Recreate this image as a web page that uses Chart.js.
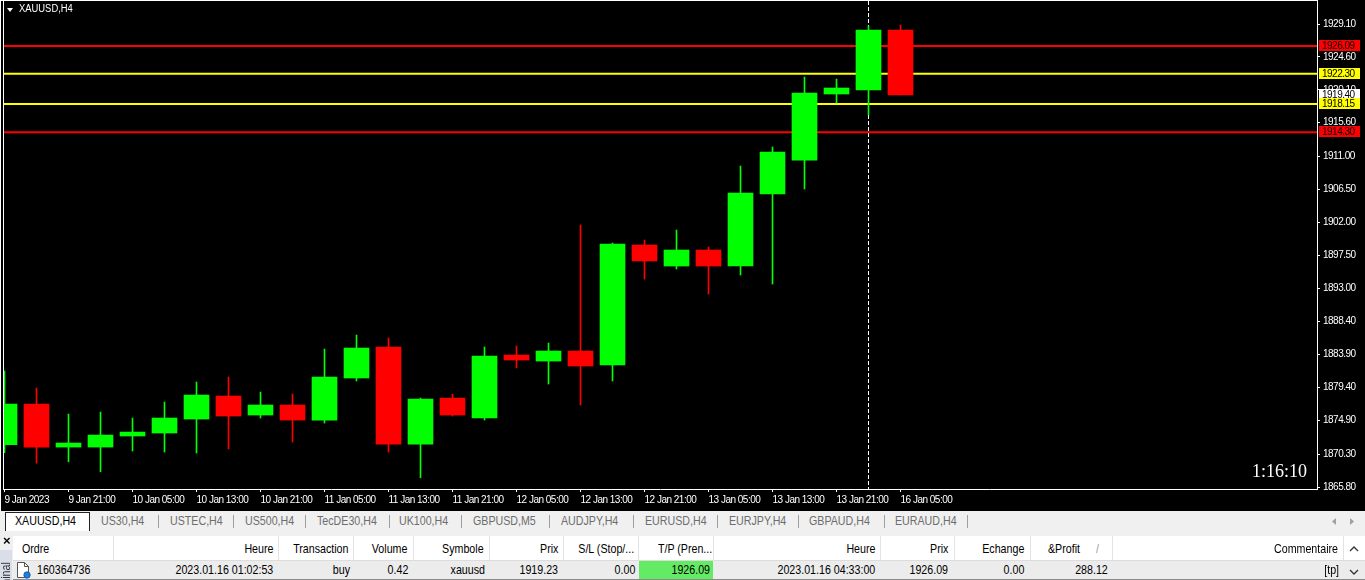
<!DOCTYPE html>
<html>
<head>
<meta charset="utf-8">
<script src="https://cdn.jsdelivr.net/npm/chart.js@4.4.0/dist/chart.umd.min.js"></script>
<style>
  html, body { margin: 0; padding: 0; width: 1365px; height: 580px; overflow: hidden; background: #f0f0f0;
    font-family: "Liberation Sans", Arial, sans-serif; }
  #chartBox { position: absolute; left: 0; top: 0; width: 1365px; height: 511px; background: #000; }
  #chartBox canvas { display: block; }
  #edge { position: absolute; left: 0; top: 0; width: 1px; height: 511px; background: #fff; }
  #symTitle { position: absolute; left: 19px; top: 3px; font-size: 10px; line-height: 12px; color: #fff;
    transform: scaleX(0.94); transform-origin: left center; }
  #symArrow { position: absolute; left: 7px; top: 8px; width: 0; height: 0;
    border-left: 3px solid transparent; border-right: 3px solid transparent; border-top: 4px solid #fff; }
  #timer { position: absolute; right: 58px; top: 461px; font-family: "Liberation Serif", "Times New Roman", serif;
    font-size: 18px; line-height: 20px; color: #fff; }
  #panel { position: absolute; left: 0; top: 511px; width: 1365px; height: 69px; background: #f0f0f0; }
  .t { position: absolute; white-space: nowrap; font-size: 13px; line-height: 16px; color: #000; }
  .tab { color: #6d6d6d; }
  .sep { position: absolute; width: 1px; background: #a0a0a0; }
  #activeTab { position: absolute; left: 5px; top: 1px; width: 83px; height: 18px; background: #fff;
    border: 1px solid #222; border-bottom: none; }
  #head { position: absolute; left: 13px; top: 25px; width: 1352px; height: 24px; background: #fff;
    border-bottom: 1px solid #dcdcdc; }
  #row { position: absolute; left: 13px; top: 50px; width: 1352px; height: 18px; background: #ececec;
    border-bottom: 1px solid #8a8a8a; }
  .csep { position: absolute; top: 25px; width: 1px; height: 24px; background: #e3e3e3; }
  #tpCell { position: absolute; left: 639px; top: 50px; width: 74px; height: 18px; background: #63ec63; }
  #sideTab { position: absolute; left: 0; top: 39px; width: 12px; height: 30px; background: #d9dee8; overflow: hidden; }
  #sideText { position: absolute; left: -19px; top: 24px; width: 50px; transform: rotate(-90deg) scaleX(0.82);
    transform-origin: 25px 8px; font-size: 13px; line-height: 16px; color: #333; }
</style>
</head>
<body>
<div id="chartBox">
  <canvas id="chart" width="1365" height="511"></canvas>
  <div id="edge"></div>
  <div id="symArrow"></div>
  <div id="symTitle">XAUUSD,H4</div>
  <div id="timer">1:16:10</div>
</div>
<div id="panel"></div>

<script>
// XAUUSD H4 bars
const barTimes = [
  '9 Jan 13:00', '9 Jan 17:00', '9 Jan 21:00',
  '10 Jan 01:00', '10 Jan 05:00', '10 Jan 09:00', '10 Jan 13:00', '10 Jan 17:00', '10 Jan 21:00',
  '11 Jan 01:00', '11 Jan 05:00', '11 Jan 09:00', '11 Jan 13:00', '11 Jan 17:00', '11 Jan 21:00',
  '12 Jan 01:00', '12 Jan 05:00', '12 Jan 09:00', '12 Jan 13:00', '12 Jan 17:00', '12 Jan 21:00',
  '13 Jan 01:00', '13 Jan 05:00', '13 Jan 09:00', '13 Jan 13:00', '13 Jan 17:00', '13 Jan 21:00',
  '16 Jan 01:00', '16 Jan 05:00'
];
const openP  = [1871.58, 1877.14, 1871.26, 1871.26, 1872.77, 1873.18, 1875.09, 1878.24, 1875.64, 1877.01,
                1874.95, 1880.70, 1884.94, 1871.67, 1877.96, 1875.23, 1883.84, 1883.02, 1884.39, 1882.48,
                1898.88, 1896.01, 1898.20, 1896.01, 1905.86, 1910.50, 1919.53, 1920.08, 1928.28];
const highP  = [1881.66, 1879.33, 1875.77, 1876.05, 1875.23, 1877.42, 1880.15, 1880.83, 1878.78, 1878.51,
                1884.66, 1886.58, 1886.17, 1877.96, 1878.51, 1884.94, 1885.07, 1885.48, 1901.62, 1899.16,
                1899.57, 1900.93, 1898.61, 1909.68, 1912.28, 1921.85, 1921.58, 1928.83, 1928.96];
const lowP   = [1870.49, 1869.07, 1869.25, 1867.88, 1870.72, 1870.58, 1870.44, 1871.00, 1875.23, 1871.95,
                1874.54, 1880.29, 1870.58, 1867.07, 1875.50, 1874.95, 1882.07, 1879.88, 1877.01, 1880.29,
                1894.23, 1895.60, 1892.18, 1894.78, 1893.55, 1906.54, 1918.30, 1916.66, 1919.40];
const closeP = [1877.14, 1871.26, 1871.81, 1872.90, 1873.31, 1875.23, 1878.37, 1875.50, 1877.01, 1874.95,
                1880.83, 1884.80, 1871.67, 1877.83, 1875.64, 1883.71, 1883.16, 1884.39, 1882.34, 1899.02,
                1896.70, 1898.20, 1896.01, 1905.99, 1911.60, 1919.67, 1920.35, 1928.28, 1919.40];

// time axis labels, one on every second bar
const axisLabels = ['9 Jan 2023', '9 Jan 21:00', '10 Jan 05:00', '10 Jan 13:00', '10 Jan 21:00',
  '11 Jan 05:00', '11 Jan 13:00', '11 Jan 21:00', '12 Jan 05:00', '12 Jan 13:00', '12 Jan 21:00',
  '13 Jan 05:00', '13 Jan 13:00', '13 Jan 21:00', '16 Jan 05:00'];
// price scale ticks
const priceTicks = [1929.10, 1924.60, 1920.10, 1915.60, 1911.00, 1906.50, 1902.00, 1897.50,
                    1893.00, 1888.40, 1883.90, 1879.40, 1874.90, 1870.30, 1865.80];
// horizontal price levels (take profit / entry / stop levels)
const levelPrices = [1926.09, 1922.30, 1918.15, 1914.30];
const levelColors = ['#ff0000', '#ffff00', '#ffff00', '#ff0000'];
// vertical marker bar
const markerTime = '16 Jan 01:00';

const UP = '#00ff00', DOWN = '#ff0000';
const BAR_PX = 32;                       // horizontal zoom: pixels per bar
const PLOT_LEFT = 3, PLOT_RIGHT = 1317, PLOT_TOP = 1, PLOT_BOTTOM = 489;
const X_MIN = -0.046875;
const X_MAX = X_MIN + (PLOT_RIGHT - PLOT_LEFT) / BAR_PX;
const Y_MAX = 1932.245, Y_MIN = 1865.527;
const AXIS_FAMILY = '"Liberation Sans", Arial, sans-serif';
const AXIS_FONT = { family: AXIS_FAMILY, size: 10 };
const LETTER_SPACING = '-0.5px';         // narrow terminal-style lettering

const candleColors = openP.map((o, i) => closeP[i] >= o ? UP : DOWN);
const tickIndex = axisLabels.map((_, k) => k * 2);

const levelSets = levelPrices.map((v, k) => ({
  type: 'line',
  data: [{ x: X_MIN, y: v }, { x: X_MAX, y: v }],
  borderColor: levelColors[k],
  borderWidth: 2,
  pointRadius: 0,
  order: 5
}));

const wickSet = {
  type: 'bar',
  data: barTimes.map((t, i) => ({ x: i, y: [lowP[i], highP[i]] })),
  backgroundColor: candleColors,
  borderWidth: 0,
  grouped: false,
  categoryPercentage: 1,
  barPercentage: 1,
  maxBarThickness: 1,
  order: 2
};
const bodySet = {
  type: 'bar',
  data: barTimes.map((t, i) => ({ x: i, y: [openP[i], closeP[i]] })),
  backgroundColor: candleColors,
  borderWidth: 0,
  grouped: false,
  categoryPercentage: 1,
  barPercentage: 1,
  maxBarThickness: 25,
  minBarLength: 1,
  order: 1
};

const narrowText = {
  id: 'narrowText',
  beforeUpdate(chart) { chart.ctx.letterSpacing = LETTER_SPACING; },
  beforeDraw(chart) { chart.ctx.letterSpacing = LETTER_SPACING; }
};

// chart frame, vertical marker and price tags on the price scale
const terminalDecor = {
  id: 'terminalDecor',
  beforeDatasetsDraw(chart) {
    const { ctx, chartArea: a, scales } = chart;
    const x = Math.floor(scales.x.getPixelForValue(barTimes.indexOf(markerTime))) + 0.5;
    ctx.save();
    ctx.strokeStyle = '#ffffff';
    ctx.lineWidth = 1;
    ctx.setLineDash([4, 2]);
    ctx.beginPath();
    ctx.moveTo(x, a.top);
    ctx.lineTo(x, a.bottom);
    ctx.stroke();
    ctx.restore();
  },
  afterDraw(chart) {
    const { ctx, chartArea: a, scales } = chart;
    ctx.save();
    ctx.fillStyle = '#ffffff';
    ctx.fillRect(0, 0, a.right + 1, 1);
    ctx.fillRect(a.left, 0, 1, a.bottom);
    const tags = [{ v: closeP[closeP.length - 1], bg: '#ffffff' }]
      .concat(levelPrices.map((v, k) => ({ v, bg: levelColors[k] })));
    ctx.letterSpacing = LETTER_SPACING;
    ctx.font = '10px ' + AXIS_FAMILY;
    ctx.textBaseline = 'middle';
    ctx.textAlign = 'left';
    tags.forEach(t => {
      const y = Math.round(scales.y.getPixelForValue(t.v));
      ctx.fillStyle = t.bg;
      ctx.fillRect(a.right + 2, y - 6, 41, 11);
      ctx.fillStyle = '#000000';
      ctx.fillText(t.v.toFixed(2), a.right + 5, y);
    });
    ctx.restore();
  }
};

new Chart(document.getElementById('chart'), {
  type: 'bar',
  data: { datasets: [bodySet, wickSet].concat(levelSets) },
  options: {
    responsive: false,
    animation: false,
    events: [],
    layout: { padding: { left: PLOT_LEFT, top: PLOT_TOP, right: 0, bottom: 0 } },
    plugins: { legend: { display: false }, tooltip: { enabled: false }, title: { display: false } },
    scales: {
      x: {
        type: 'linear',
        min: X_MIN,
        max: X_MAX,
        offset: false,
        afterBuildTicks: s => { s.ticks = tickIndex.map(v => ({ value: v })); },
        afterFit: s => {
          s.height = 511 - PLOT_BOTTOM;
          s.paddingLeft = 0; s.paddingRight = 0; s.paddingTop = 0; s.paddingBottom = 0;
        },
        grid: { display: true, drawOnChartArea: false, drawTicks: true, tickLength: 3, color: '#ffffff', offset: false },
        border: { display: true, color: '#ffffff', width: 1 },
        ticks: {
          autoSkip: false, maxRotation: 0, minRotation: 0, align: 'start', padding: 2,
          color: '#ffffff', font: AXIS_FONT,
          callback: v => axisLabels[tickIndex.indexOf(v)]
        }
      },
      y: {
        type: 'linear',
        position: 'right',
        min: Y_MIN,
        max: Y_MAX,
        afterBuildTicks: s => { s.ticks = priceTicks.map(v => ({ value: v })); },
        afterFit: s => {
          s.width = 1365 - PLOT_RIGHT;
          s.paddingLeft = 0; s.paddingRight = 0; s.paddingTop = 0; s.paddingBottom = 0;
        },
        grid: { display: true, drawOnChartArea: false, drawTicks: true, tickLength: 3, color: '#ffffff' },
        border: { display: true, color: '#ffffff', width: 1 },
        ticks: {
          autoSkip: false, padding: 3, color: '#ffffff', font: AXIS_FONT,
          callback: v => Number(v).toFixed(2)
        }
      }
    }
  },
  plugins: [narrowText, terminalDecor]
});

// terminal panel: symbol tabs and trade history row
const panel = document.getElementById('panel');
function put(text, x, y, opts = {}) {
  const el = document.createElement('div');
  el.className = 't' + (opts.cls ? ' ' + opts.cls : '');
  el.textContent = text;
  el.style.top = (y - 8) + 'px';
  if (opts.right) {
    el.style.right = (1365 - x) + 'px';
    el.style.transformOrigin = 'right center';
  } else {
    el.style.left = x + 'px';
    el.style.transformOrigin = 'left center';
  }
  el.style.transform = 'scaleX(0.82)';
  if (opts.color) el.style.color = opts.color;
  panel.appendChild(el);
  return el;
}
function block(id) {
  const el = document.createElement('div');
  el.id = id;
  panel.appendChild(el);
  return el;
}
block('activeTab');
const tabNames = ['US30,H4', 'USTEC,H4', 'US500,H4', 'TecDE30,H4', 'UK100,H4', 'GBPUSD,M5',
                  'AUDJPY,H4', 'EURUSD,H4', 'EURJPY,H4', 'GBPAUD,H4', 'EURAUD,H4'];
const tabX = [101, 170, 245, 317, 399, 473, 561, 645, 729, 809, 895];
const tabSepX = [158, 233, 305, 389, 461, 549, 633, 717, 798, 884, 967];
put('XAUUSD,H4', 15, 10);
tabNames.forEach((n, k) => put(n, tabX[k], 10, { cls: 'tab' }));
tabSepX.forEach(x => {
  const s = document.createElement('div');
  s.className = 'sep';
  s.style.left = x + 'px'; s.style.top = '4px'; s.style.height = '13px';
  panel.appendChild(s);
});
panel.insertAdjacentHTML('beforeend',
  '<svg style="position:absolute;left:1330px;top:6px" width="30" height="9">' +
  '<path d="M6 1 L2 4.5 L6 8 Z" fill="#a0a0a0"/><path d="M20 1 L24 4.5 L20 8 Z" fill="#a0a0a0"/></svg>');

block('head');
block('row');
block('tpCell');
[113, 278, 353, 413, 489, 563, 638, 713, 880, 954, 1030, 1112, 1343].forEach(x => {
  const s = document.createElement('div');
  s.className = 'csep';
  s.style.left = x + 'px';
  panel.appendChild(s);
});
// side tab with close cross and vertical caption
panel.insertAdjacentHTML('beforeend',
  '<div class="t" style="left:3px;top:22px;font-weight:bold;font-size:13px">×</div>' +
  '<div id="sideTab"><div id="sideText">Terminal</div></div>');

const headY = 38, rowY = 59;
put('Ordre', 22, headY);
const headRight = [['Heure', 273], ['Transaction', 348], ['Volume', 407], ['Symbole', 484], ['Prix', 558],
  ['S/L (Stop/...', 634], ['T/P (Pren...', 712], ['Heure', 875], ['Prix', 948], ['Echange', 1024],
  ['Commentaire', 1338]];
headRight.forEach(([t, x]) => put(t, x, headY, { right: true }));
put('&Profit', 1048, headY);
put('/', 1096, headY, { color: '#9a9a9a' });

put('160364736', 37, rowY);
const rowRight = [['2023.01.16 01:02:53', 273], ['buy', 350], ['0.42', 408], ['xauusd', 485], ['1919.23', 558],
  ['0.00', 635], ['1926.09', 710], ['2023.01.16 04:33:00', 875], ['1926.09', 948], ['0.00', 1024],
  ['288.12', 1108], ['[tp]', 1339]];
rowRight.forEach(([t, x]) => put(t, x, rowY, { right: true }));
// order icon and scroll arrows
panel.insertAdjacentHTML('beforeend',
  '<svg style="position:absolute;left:16px;top:51px" width="16" height="17">' +
  '<path d="M1.5 0.5 H8.5 L12.5 4.5 V15.5 H1.5 Z" fill="#fff" stroke="#555"/>' +
  '<path d="M8.5 0.5 V4.5 H12.5" fill="none" stroke="#555"/>' +
  '<circle cx="11" cy="13" r="3.2" fill="#1e7fe0" stroke="#0b4f9a" stroke-width="0.8"/></svg>' +
  '<svg style="position:absolute;left:1348px;top:33px" width="12" height="34">' +
  '<path d="M2 7 L6 3 L10 7" fill="none" stroke="#333" stroke-width="1.3"/>' +
  '<path d="M2 26 L6 30 L10 26" fill="none" stroke="#333" stroke-width="1.3"/></svg>');
</script>
</body>
</html>
